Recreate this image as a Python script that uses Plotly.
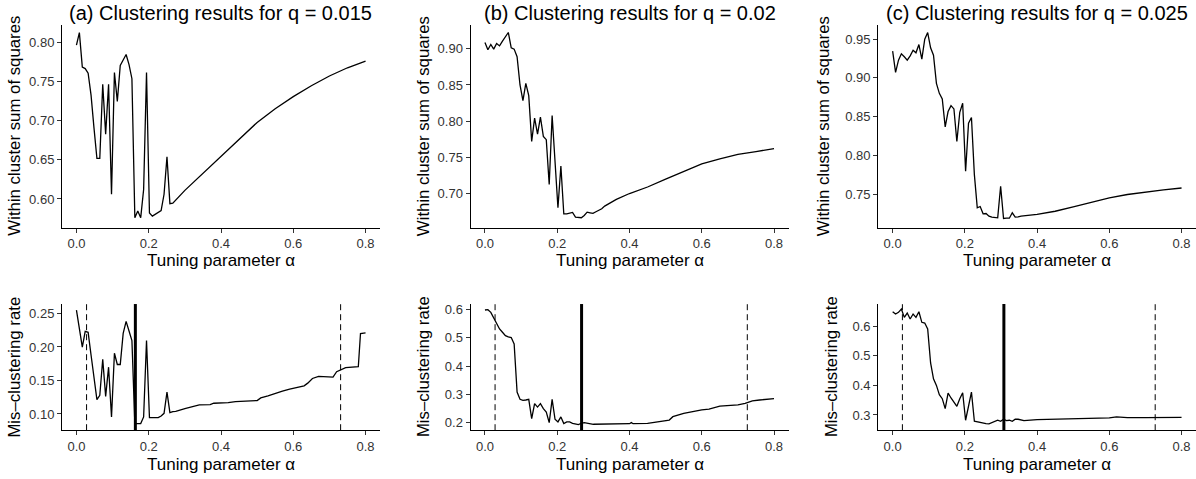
import plotly.graph_objects as go

# ---------------- data ----------------
ALPHA_FINE = [0.0, 0.0081, 0.0162, 0.0242, 0.0323, 0.0404, 0.0485, 0.0566, 0.0646, 0.0727,
              0.0808, 0.0889, 0.0970, 0.1051, 0.1131, 0.1212, 0.1293, 0.1374, 0.1455, 0.1535,
              0.1616, 0.1697, 0.1778, 0.1859, 0.1939, 0.2020, 0.2101, 0.2182, 0.2263, 0.2343,
              0.2424, 0.2505, 0.2586, 0.2667, 0.2747, 0.2828, 0.2909, 0.2990, 0.3071, 0.3152,
              0.3232, 0.3313, 0.3394, 0.3475, 0.3556, 0.3636]

TITLES = ["(a) Clustering results for q = 0.015",
          "(b) Clustering results for q = 0.02",
          "(c) Clustering results for q = 0.025"]
X_TITLE = "Tuning parameter α"
Y_TITLE_TOP = "Within cluster sum of squares"
Y_TITLE_BOTTOM = "Mis\u2013clustering rate"

X_TICKS = [0.0, 0.2, 0.4, 0.6, 0.8]
X_TICK_TEXT = ["0.0", "0.2", "0.4", "0.6", "0.8"]

# (a) q = 0.015 : within cluster sum of squares
WSS_A = [0.797, 0.813, 0.769, 0.767, 0.761, 0.733, 0.691, 0.652, 0.652, 0.747,
         0.683, 0.747, 0.606, 0.762, 0.725, 0.771, 0.778, 0.785, 0.772, 0.754,
         0.576, 0.5845, 0.576, 0.612, 0.762, 0.582, 0.578, 0.580, 0.5825, 0.585,
         0.606, 0.654, 0.594, 0.5946]
WSS_A_TAIL_X = [0.30, 0.35, 0.40, 0.45, 0.50, 0.55, 0.60, 0.65, 0.70, 0.75, 0.80]
WSS_A_TAIL_Y = [0.611, 0.633, 0.6546, 0.677, 0.698, 0.7155, 0.731, 0.745, 0.7575, 0.768, 0.7766]

# (a) mis-clustering rate
MCR_A = [0.255, 0.229, 0.1996, 0.2233, 0.2218, 0.188, 0.155, 0.1214, 0.1278, 0.1817,
         0.1263, 0.1698, 0.0956, 0.1906, 0.1738, 0.1738, 0.2203, 0.2382, 0.2238, 0.2095,
         0.0857, 0.0857, 0.0857, 0.0956, 0.2095, 0.0946, 0.0946, 0.0946, 0.0946, 0.097,
         0.101, 0.1327, 0.102, 0.1035, 0.104]
MCR_A_TAIL_X = [0.30, 0.32, 0.34, 0.37, 0.38, 0.42, 0.44, 0.50, 0.51, 0.53, 0.55, 0.57,
                0.59, 0.61, 0.63, 0.64, 0.653, 0.67, 0.70, 0.71, 0.72, 0.735, 0.745, 0.78,
                0.786, 0.80]
MCR_A_TAIL_Y = [0.108, 0.111, 0.1135, 0.114, 0.116, 0.117, 0.1185, 0.120, 0.124, 0.127,
                0.131, 0.134, 0.137, 0.1395, 0.142, 0.146, 0.153, 0.156, 0.156, 0.155,
                0.163, 0.167, 0.169, 0.1705, 0.220, 0.221]

# (b) q = 0.02
WSS_B = [0.9087, 0.8986, 0.906, 0.8995, 0.9073, 0.904, 0.9106, 0.9165, 0.9225, 0.9014,
         0.8995, 0.889, 0.850, 0.8284, 0.8523, 0.8353, 0.772, 0.8041, 0.7821, 0.8055,
         0.779, 0.7744, 0.7124, 0.8078, 0.744, 0.6803, 0.738, 0.672, 0.672, 0.6725,
         0.6739, 0.6674, 0.6665, 0.6665, 0.6697, 0.6743, 0.6734, 0.6725, 0.6748, 0.677,
         0.679, 0.6826, 0.685, 0.687, 0.690, 0.692]
WSS_B_TAIL_X = [0.40, 0.45, 0.50, 0.55, 0.60, 0.65, 0.70, 0.75, 0.80]
WSS_B_TAIL_Y = [0.700, 0.709, 0.720, 0.731, 0.741, 0.748, 0.754, 0.758, 0.762]

MCR_B = [0.5988, 0.600, 0.5906, 0.5694, 0.553, 0.5318, 0.52, 0.5082, 0.5035, 0.5012,
         0.4788, 0.3082, 0.2823, 0.2788, 0.28, 0.2823, 0.2141, 0.267, 0.255, 0.267,
         0.2494, 0.2376, 0.2, 0.2823, 0.2117, 0.2023, 0.22, 0.1964, 0.2023, 0.2023,
         0.1976, 0.1953, 0.193, 0.1976, 0.2]
MCR_B_TAIL_X = [0.30, 0.35, 0.40, 0.405, 0.41, 0.45, 0.48, 0.50, 0.51, 0.52, 0.55, 0.60,
                0.62, 0.65, 0.70, 0.72, 0.74, 0.76, 0.80]
MCR_B_TAIL_Y = [0.194, 0.195, 0.196, 0.200, 0.196, 0.197, 0.203, 0.207, 0.209, 0.221,
                0.233, 0.245, 0.248, 0.258, 0.263, 0.268, 0.277, 0.280, 0.285]

# (c) q = 0.025
WSS_C = [0.9345, 0.9071, 0.923, 0.9311, 0.9273, 0.923, 0.9285, 0.9358, 0.9324, 0.9431,
         0.9243, 0.95, 0.9585, 0.9388, 0.9294, 0.893, 0.8801, 0.8729, 0.8369, 0.8566,
         0.8643, 0.86, 0.818, 0.8557, 0.8673, 0.7795, 0.8416, 0.8489, 0.7753, 0.7324,
         0.7341, 0.7247, 0.7251, 0.7217, 0.7204, 0.7195, 0.7195, 0.7602, 0.7187, 0.719,
         0.719, 0.726, 0.7204, 0.7208, 0.7217]
WSS_C_TAIL_X = [0.40, 0.45, 0.50, 0.55, 0.60, 0.65, 0.70, 0.75, 0.80]
WSS_C_TAIL_Y = [0.7239, 0.728, 0.7337, 0.7397, 0.7453, 0.7496, 0.753, 0.7556, 0.758]

MCR_C = [0.6495, 0.6417, 0.6473, 0.6585, 0.6304, 0.645, 0.6248, 0.6417, 0.6304, 0.6495,
         0.6136, 0.6113, 0.5911, 0.476, 0.4226, 0.4001, 0.3687, 0.3552, 0.3215, 0.3743,
         0.3575, 0.344, 0.3294, 0.3552, 0.3754, 0.2822, 0.333, 0.3777, 0.2788, 0.2765,
         0.2743, 0.2709, 0.2709, 0.2698, 0.2731, 0.2765, 0.2822, 0.2788, 0.2855, 0.281,
         0.2822, 0.2788, 0.2855, 0.2855, 0.2822, 0.281]
MCR_C_TAIL_X = [0.40, 0.45, 0.50, 0.55, 0.60, 0.62, 0.65, 0.70, 0.75, 0.80]
MCR_C_TAIL_Y = [0.2845, 0.2855, 0.2867, 0.288, 0.290, 0.2935, 0.291, 0.291, 0.2915, 0.292]

# reference lines on the mis-clustering panels
DASHED_ALPHA = [[0.028, 0.731], [0.028, 0.726], [0.027, 0.727]]
SELECTED_ALPHA = [0.163, 0.2674, 0.308]

# y ticks
YT_TOP = [[0.60, 0.65, 0.70, 0.75, 0.80], [0.70, 0.75, 0.80, 0.85, 0.90], [0.75, 0.80, 0.85, 0.90, 0.95]]
YT_BOT = [[0.10, 0.15, 0.20, 0.25], [0.2, 0.3, 0.4, 0.5, 0.6], [0.3, 0.4, 0.5, 0.6]]
YT_TOP_TEXT = [["%.2f" % v for v in t] for t in YT_TOP]
YT_BOT_TEXT = [["%.2f" % v for v in YT_BOT[0]], ["%.1f" % v for v in YT_BOT[1]], ["%.1f" % v for v in YT_BOT[2]]]

# ---------------- layout geometry ----------------
W, H = 1196, 479
FONT = "Liberation Sans, Arial, Helvetica, sans-serif"
COL_PX = [(62.0, 380.0), (470.5, 788.5), (878.2, 1196.0)]
TOP_PX = (22.7, 226.7)
BOT_PX = (303.3, 430.0)
Y_RANGE_TOP = [[0.5631, 0.8233], [0.6527, 0.9334], [0.7067, 0.9688]]
Y_RANGE_BOT = [[0.0758, 0.2640], [0.173, 0.620], [0.2485, 0.6755]]
X_RANGE = [-0.04, 0.84]
XT_TITLE_PX = [259.5, 464.0]
YT_TITLE_PX = [[14.5, 14.5], [423, 423], [823, 831]]


def px_x(p):
    return p / W


def px_y(p):
    return 1 - p / H


wss_series = [(WSS_A, WSS_A_TAIL_X, WSS_A_TAIL_Y),
              (WSS_B, WSS_B_TAIL_X, WSS_B_TAIL_Y),
              (WSS_C, WSS_C_TAIL_X, WSS_C_TAIL_Y)]
mcr_series = [(MCR_A, MCR_A_TAIL_X, MCR_A_TAIL_Y),
              (MCR_B, MCR_B_TAIL_X, MCR_B_TAIL_Y),
              (MCR_C, MCR_C_TAIL_X, MCR_C_TAIL_Y)]

fig = go.Figure()
layout = dict(width=W, height=H, margin=dict(l=0, r=0, t=0, b=0),
              paper_bgcolor="white", plot_bgcolor="white", showlegend=False,
              font=dict(family=FONT, color="black"))
shapes = []
annotations = []

axis_common = dict(showline=True, linecolor="black", linewidth=1, ticks="outside",
                   ticklen=4, tickwidth=1, tickcolor="#333333", showgrid=False,
                   zeroline=False, mirror=False,
                   tickfont=dict(family=FONT, size=13, color="#333333"))

for c in range(3):
    x0p, x1p = COL_PX[c]
    xdom = [px_x(x0p), min(1.0, px_x(x1p))]
    for r in range(2):
        k = c * 2 + r + 1
        xa = "xaxis" if k == 1 else "xaxis%d" % k
        ya = "yaxis" if k == 1 else "yaxis%d" % k
        xs = "x" if k == 1 else "x%d" % k
        ys = "y" if k == 1 else "y%d" % k
        if r == 0:
            vals, tx, ty = wss_series[c]
            ypx = TOP_PX
            yr = Y_RANGE_TOP[c]
            ytv, ytt = YT_TOP[c], YT_TOP_TEXT[c]
        else:
            vals, tx, ty = mcr_series[c]
            ypx = BOT_PX
            yr = Y_RANGE_BOT[c]
            ytv, ytt = YT_BOT[c], YT_BOT_TEXT[c]
        ydom = [px_y(ypx[1]), px_y(ypx[0])]
        layout[xa] = dict(axis_common, domain=xdom, range=X_RANGE, anchor=ys,
                          tickvals=X_TICKS, ticktext=X_TICK_TEXT)
        layout[ya] = dict(axis_common, domain=ydom, range=yr, anchor=xs,
                          tickvals=ytv, ticktext=ytt)
        xdata = ALPHA_FINE[:len(vals)] + tx
        ydata = vals + ty
        fig.add_trace(go.Scatter(x=xdata, y=ydata, mode="lines", xaxis=xs, yaxis=ys,
                                 line=dict(color="black", width=1.3), hoverinfo="skip"))
        if r == 1:
            for a in DASHED_ALPHA[c]:
                shapes.append(dict(type="line", xref=xs, yref=ys + " domain", x0=a, x1=a,
                                   y0=0, y1=1, line=dict(color="black", width=1, dash="6px,4px")))
            a = SELECTED_ALPHA[c]
            shapes.append(dict(type="line", xref=xs, yref=ys + " domain", x0=a, x1=a,
                               y0=0, y1=1, line=dict(color="black", width=3)))
        # x axis title (centred on the panel)
        xc = (x0p + x1p) / 2
        annotations.append(dict(text=X_TITLE, xref="paper", yref="paper", x=px_x(xc),
                                y=px_y(XT_TITLE_PX[r]), xanchor="center", yanchor="middle",
                                showarrow=False, font=dict(family=FONT, size=17, color="black")))
        # y axis title
        annotations.append(dict(text=Y_TITLE_TOP if r == 0 else Y_TITLE_BOTTOM,
                                xref="paper", yref="paper", x=px_x(YT_TITLE_PX[c][r]),
                                y=px_y((ypx[0] + ypx[1]) / 2), xanchor="center", yanchor="middle",
                                textangle=-90, showarrow=False,
                                font=dict(family=FONT, size=16.8, color="black")))
    # panel title
    annotations.append(dict(text=TITLES[c], xref="paper", yref="paper",
                            x=px_x((x0p + x1p) / 2), y=px_y(11.5), xanchor="center",
                            yanchor="middle", showarrow=False,
                            font=dict(family=FONT, size=20, color="black")))

layout["shapes"] = shapes
layout["annotations"] = annotations
fig.update_layout(**layout)
fig.write_html("out.html",
               config={"displayModeBar": False, "staticPlot": True},
               post_script="document.body.style.margin='0px';"
                           "document.body.style.padding='0px';"
                           "document.body.style.overflow='hidden';")
